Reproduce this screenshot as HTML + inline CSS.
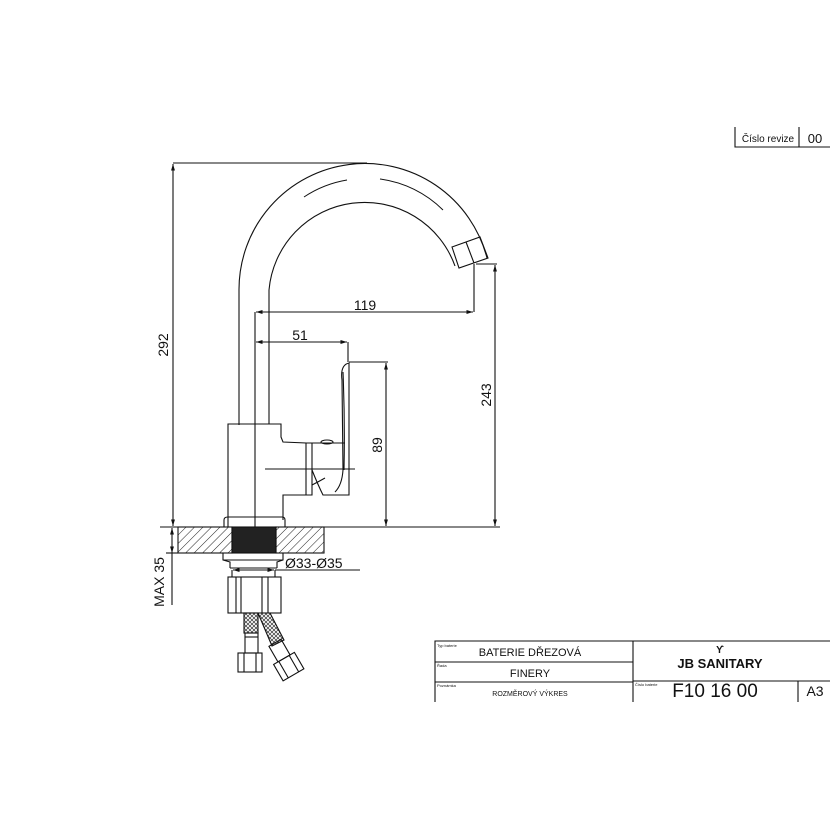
<!DOCTYPE html>
<html><head><meta charset="utf-8"><style>
html,body{margin:0;padding:0;background:#fff}
svg{display:block}
text{font-family:"Liberation Sans",sans-serif;fill:#111}
</style></head><body>
<svg width="830" height="830" viewBox="0 0 830 830" xmlns="http://www.w3.org/2000/svg">
<defs>
<pattern id="h" width="6" height="6" patternUnits="userSpaceOnUse" patternTransform="rotate(45)">
<line x1="0" y1="0" x2="0" y2="6" stroke="#222" stroke-width="1"/>
</pattern>
<pattern id="br" width="4" height="4" patternUnits="userSpaceOnUse">
<path d="M0 0L4 4M4 0L0 4" stroke="#333" stroke-width="0.7"/>
</pattern>
<marker id="a" viewBox="0 0 10 10" refX="10" refY="5" markerWidth="6" markerHeight="6" orient="auto-start-reverse"><path d="M0 2L10 5L0 8z" fill="#111"/></marker>
</defs>
<g fill="none" stroke="#111" stroke-width="1.1">
<!-- spout -->
<path d="M239 425 L239 290 A126 126 0 0 1 487 258"/>
<path d="M269 424 L269 290 A96 96 0 0 1 455 266"/>
<path d="M304 197 A110 110 0 0 1 347 180 M380 179 A110 110 0 0 1 443 210" stroke-width="1"/>
<path d="M452 247 L480 237 L488 258 L459 268 Z M466 242 L474 263"/>
<!-- centerline -->
<line x1="255" y1="312" x2="255" y2="527"/>
<!-- body -->
<path d="M228 527 L228 424 L281 424 L281 437 L283 442 L306 443 L306 495 L283 495 L283 520"/>
<path d="M306 443 L312 443 L312 495 L306 495"/>
<path d="M312 443 L345 443 M312 470 Q318 485 323 495 L349 495 L349 363 Q340 365 342 380 L343 470 Q342 485 335 492" />
<path d="M343 372 Q345 420 344 470"/>
<path d="M312 485 Q318 482 325 478"/>
<ellipse cx="327" cy="442" rx="6" ry="2"/>
<line x1="265" y1="469" x2="355" y2="469"/>
<!-- base ring -->
<path d="M224 527 L224 520 Q224 517 228 517 L282 517 Q285 517 285 520 L285 527"/>
<!-- counter -->
<line x1="160" y1="527" x2="500" y2="527"/>
<rect x="178" y="527" width="54" height="26" fill="url(#h)"/>
<rect x="276" y="527" width="48" height="26" fill="url(#h)"/>
<line x1="178" y1="553" x2="324" y2="553"/>
<rect x="232" y="527" width="44" height="26" fill="#222"/>
<!-- below -->
<path d="M223 553 L223 560 L230 562 L230 568 M283 553 L283 560 L277 562 L277 568 M223 560 L283 560"/>
<line x1="230" y1="568" x2="277" y2="568"/>
<line x1="232" y1="570" x2="232" y2="577"/><line x1="275" y1="570" x2="275" y2="577"/>
<rect x="228" y="577" width="53" height="36"/>
<path d="M236 577V613M241 577V613M262 577V613M268 577V613"/>
<!-- hoses -->
<rect x="244" y="613" width="14" height="20" fill="url(#br)"/>
<path d="M258 613 L270 613 L284 640 L272 646 Z" fill="url(#br)"/>
<rect x="245" y="633" width="13" height="20"/>
<line x1="245" y1="637" x2="258" y2="637"/>
<rect x="238" y="653" width="24" height="19"/>
<path d="M244 653V672M256 653V672"/>
<g transform="translate(278 648) rotate(-30)">
<rect x="-7" y="-6" width="14" height="18"/>
<rect x="-12" y="12" width="24" height="19"/>
<path d="M-6 12V31M6 12V31"/>
</g>
<!-- dimensions -->
<line x1="173" y1="163" x2="367" y2="163"/>
<line x1="173" y1="164" x2="173" y2="526" marker-start="url(#a)" marker-end="url(#a)"/>
<line x1="474" y1="264" x2="474" y2="312"/>
<line x1="256" y1="312" x2="473" y2="312" marker-start="url(#a)" marker-end="url(#a)"/>
<line x1="348" y1="342" x2="348" y2="362"/>
<line x1="256" y1="342" x2="347" y2="342" marker-start="url(#a)" marker-end="url(#a)"/>
<line x1="349" y1="362" x2="388" y2="362"/>
<line x1="386" y1="363" x2="386" y2="526" marker-start="url(#a)" marker-end="url(#a)"/>
<line x1="476" y1="264" x2="497" y2="264"/>
<line x1="495" y1="265" x2="495" y2="526" marker-start="url(#a)" marker-end="url(#a)"/>
<line x1="233" y1="570" x2="274" y2="570" marker-start="url(#a)" marker-end="url(#a)"/>
<line x1="275" y1="570" x2="360" y2="570"/>
<line x1="172" y1="528" x2="172" y2="553" marker-start="url(#a)" marker-end="url(#a)"/>
<line x1="166" y1="553" x2="178" y2="553"/>
<line x1="172" y1="553" x2="172" y2="605"/>
<!-- title block -->
<path d="M735 127 V147 H830 M799 127 V147"/>
<path d="M435 702 V641 H830 M435 662 H633 M435 682 H633 M633 641 V702 M633 681 H830 M798 681 V702"/>
</g>
<g font-size="14">
<text x="365" y="310" text-anchor="middle">119</text>
<text x="300" y="340" text-anchor="middle">51</text>
<text transform="translate(382 445) rotate(-90)" text-anchor="middle">89</text>
<text transform="translate(491 395) rotate(-90)" text-anchor="middle">243</text>
<text transform="translate(168 345) rotate(-90)" text-anchor="middle">292</text>
<text transform="translate(164 582) rotate(-90)" text-anchor="middle">MAX 35</text>
<text x="285" y="568">Ø33-Ø35</text>
</g>
<text x="768" y="142" font-size="10" text-anchor="middle">Číslo revize</text>
<text x="815" y="143" font-size="13" text-anchor="middle">00</text>
<g font-size="4"><text x="437" y="647">Typ baterie</text><text x="437" y="667">Řada</text><text x="437" y="687">Poznámka</text><text x="635" y="686">Číslo baterie</text></g>
<text x="530" y="656" font-size="11" text-anchor="middle">BATERIE DŘEZOVÁ</text>
<text x="530" y="677" font-size="11" text-anchor="middle">FINERY</text>
<text x="530" y="696" font-size="7" text-anchor="middle">ROZMĚROVÝ VÝKRES</text>
<text x="720" y="653" font-size="10" text-anchor="middle" font-weight="bold">ϒ</text>
<text x="720" y="668" font-size="13" text-anchor="middle" font-weight="bold">JB SANITARY</text>
<text x="715" y="697" font-size="19" text-anchor="middle">F10 16 00</text>
<text x="815" y="696" font-size="14" text-anchor="middle">A3</text>
</svg>
</body></html>
